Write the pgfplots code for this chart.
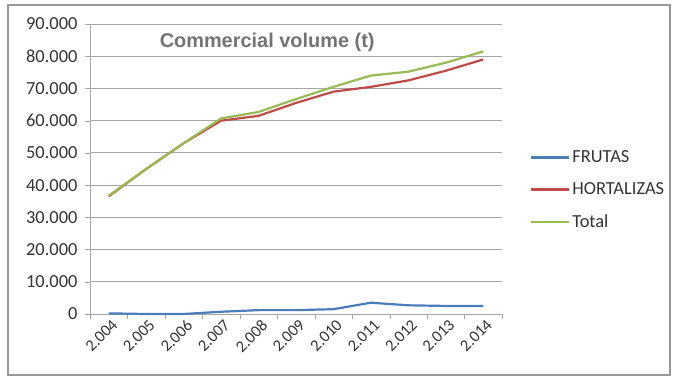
\documentclass[border=0pt]{standalone}
\usepackage{pgfplots}
\pgfplotsset{compat=1.18}
\usepackage{fontspec}
\setmainfont{Carlito}
\newfontfamily\titlefont{Liberation Sans}
\definecolor{frutas}{HTML}{4A7EBB}
\definecolor{hort}{HTML}{BE4B48}
\definecolor{total}{HTML}{98B954}
\definecolor{txt}{HTML}{333333}
\definecolor{gridc}{HTML}{A6A6A6}
\begin{document}
\begin{tikzpicture}[x=1bp,y=1bp]
\useasboundingbox (-90,-64) rectangle (585,314);
\draw[gray!80, line width=1.2bp] (-82,-61) rectangle (580,309);
\begin{axis}[
  at={(0,0)}, anchor=south west,
  scale only axis, width=412bp, height=290bp,
  xmin=-0.5, xmax=10.5, ymin=0, ymax=90000,
  axis x line*=bottom, axis y line*=left,
  axis line style={gridc},
  xtick={0,...,10},
  xticklabels={2.004,2.005,2.006,2.007,2.008,2.009,2.010,2.011,2.012,2.013,2.014},
  major x tick style={draw=none},
  minor xtick={-0.5,0.5,...,10.5},
  minor x tick style={gridc},
  minor tick length=5bp,
  tick align=outside,
  ytick={0,10000,...,90000},
  major y tick style={gridc},
  major tick length=5bp,
  ymajorgrids, grid style={gridc, line width=0.8bp},
  scaled y ticks=false,
  /pgf/number format/1000 sep={.},
  /pgf/number format/assume math mode=true,
  y tick label style={font=\fontsize{18.5}{20}\selectfont, text=txt, xshift=-4bp},
  x tick label style={font=\fontsize{16.5}{18}\selectfont, text=txt, rotate=45, anchor=north east, inner sep=1bp, xshift=3bp},
  legend style={at={(axis description cs:1.068,0.428)}, anchor=west, draw=none, fill=none,
    font=\fontsize{18.5}{20}\selectfont, text=txt, row sep=14.5bp, inner sep=0pt},
  legend cell align=left,
  legend image code/.code={\draw[#1, line width=2.2bp] (0bp,0bp) -- (38bp,0bp);},
  every axis plot/.append style={line width=2.2bp, no markers},
  clip=false,
]
\addplot[frutas] coordinates {(0,200) (1,0) (2,0) (3,700) (4,1200) (5,1200) (6,1500) (7,3500) (8,2700) (9,2500) (10,2500)};
\addlegendentry{FRUTAS}
\addplot[hort] coordinates {(0,36500) (1,45000) (2,53000) (3,60000) (4,61500) (5,65500) (6,69000) (7,70500) (8,72500) (9,75500) (10,79000)};
\addlegendentry{HORTALIZAS}
\addplot[total] coordinates {(0,36700) (1,45000) (2,53000) (3,60700) (4,62700) (5,66700) (6,70500) (7,74000) (8,75200) (9,78000) (10,81500)};
\addlegendentry{Total}
\node[font=\titlefont\bfseries\fontsize{20}{22}\selectfont, text=gray!90!black] at (rel axis cs:0.43,0.938) {Commercial volume (t)};
\end{axis}
\end{tikzpicture}
\end{document}
